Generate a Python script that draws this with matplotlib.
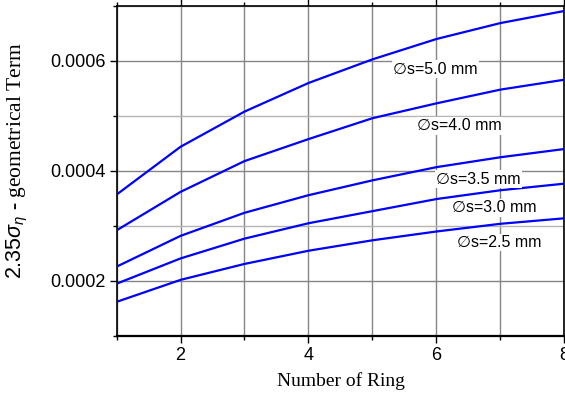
import matplotlib
matplotlib.use("Agg")
import matplotlib.pyplot as plt
from matplotlib.ticker import MultipleLocator, FormatStrFormatter

# ring number on the x axis
rings = [1, 2, 3, 4, 5, 6, 7, 8]

# geometrical term for each source diameter
d50 = [0.000357, 0.000444, 0.000508, 0.000560, 0.000603, 0.000640, 0.000669, 0.000691]
d40 = [0.000292, 0.000362, 0.000418, 0.000458, 0.000496, 0.000523, 0.000548, 0.000566]
d35 = [0.000226, 0.000282, 0.000324, 0.000356, 0.000383, 0.000407, 0.000425, 0.000440]
d30 = [0.000195, 0.000241, 0.000277, 0.000305, 0.000327, 0.000349, 0.000365, 0.000377]
d25 = [0.000162, 0.000202, 0.000231, 0.000255, 0.000274, 0.000290, 0.000304, 0.000314]

labels = ["\u2205s=5.0 mm", "\u2205s=4.0 mm", "\u2205s=3.5 mm", "\u2205s=3.0 mm", "\u2205s=2.5 mm"]
label_x = [5.98, 6.36, 6.66, 6.91, 6.98]
label_y = [0.000585, 0.000482, 0.000385, 0.000333, 0.000270]

plt.rcParams["mathtext.fontset"] = "custom"
plt.rcParams["mathtext.rm"] = "Liberation Sans"
plt.rcParams["mathtext.sf"] = "Liberation Sans"
plt.rcParams["mathtext.it"] = "Liberation Sans:italic"

fig = plt.figure(figsize=(5.65, 3.97), dpi=100)
ax = fig.add_axes([0.2062, 0.1537, 0.7929, 0.8312])

for s in (d50, d40, d35, d30, d25):
    ax.plot(rings, s, color="#0000ff", lw=1.6, zorder=3)

for t, x, y in zip(labels, label_x, label_y):
    ax.text(x, y, t, ha="center", va="center", fontsize=11.5,
            family=["Liberation Sans", "DejaVu Sans"], zorder=4,
            bbox=dict(facecolor="white", edgecolor="none", pad=1.0))

ax.set_xlim(1, 8)
ax.set_ylim(0.0001, 0.0007)
ax.xaxis.set_major_locator(MultipleLocator(2))
ax.xaxis.set_minor_locator(MultipleLocator(1))
ax.yaxis.set_major_locator(MultipleLocator(0.0002))
ax.yaxis.set_minor_locator(MultipleLocator(0.0001))
ax.yaxis.set_major_formatter(FormatStrFormatter("%.4f"))

ax.grid(which="major", color="#858585", lw=1.0, zorder=1)
ax.grid(which="minor", axis="x", color="#858585", lw=1.0, zorder=1)
ax.grid(which="minor", axis="y", color="#b4b4b4", lw=1.0, zorder=1)

ax.tick_params(which="both", direction="out", top=True, right=False,
               labelsize=13, pad=3, width=1.0)
ax.tick_params(which="major", length=5)
ax.tick_params(which="minor", length=3)
for lab in ax.get_xticklabels() + ax.get_yticklabels():
    lab.set_family("Liberation Sans")

for side in ("left", "top", "right"):
    ax.spines[side].set_linewidth(1.2)
ax.spines["bottom"].set_linewidth(1.6)

ax.set_xlabel("Number of Ring", family="Liberation Serif", fontsize=14, labelpad=6)
ax.set_ylabel(r"$\mathsf{2.35}\sigma_{\eta}$ - geometrical Term",
              family="Liberation Serif", fontsize=15.5)
ax.yaxis.set_label_coords(-0.192, 0.53)

fig.savefig("out.png", dpi=100)
